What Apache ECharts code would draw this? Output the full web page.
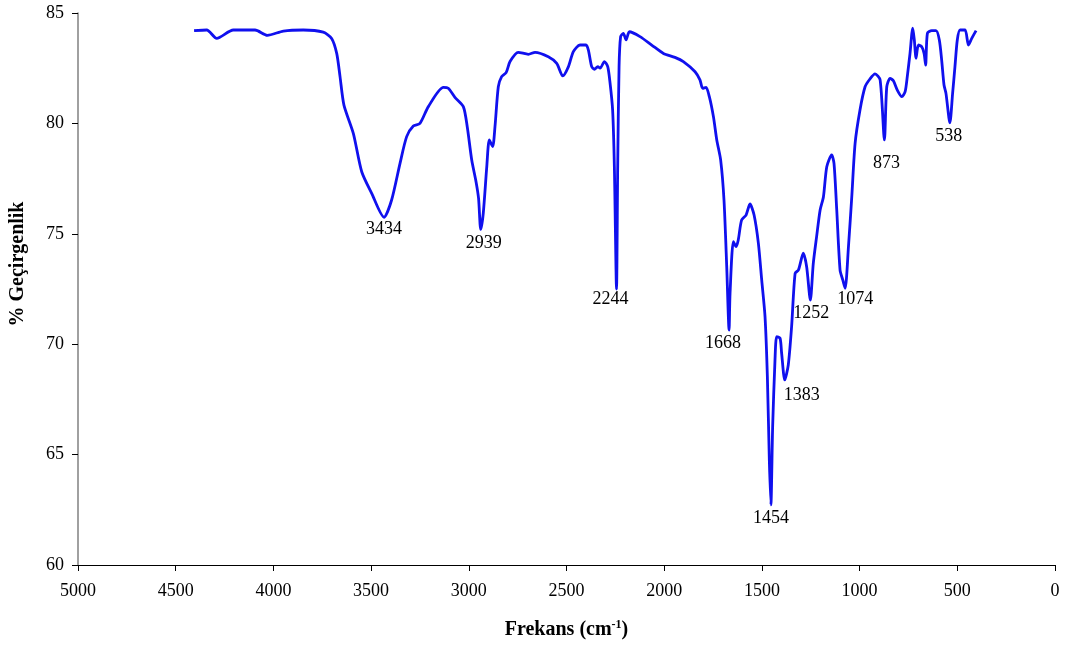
<!DOCTYPE html>
<html>
<head>
<meta charset="utf-8">
<script src="https://cdn.jsdelivr.net/npm/echarts@6/dist/echarts.min.js"></script>
<style>
  html, body { margin: 0; padding: 0; background: #fff; }
  #chart { width: 1070px; height: 649px; }
</style>
</head>
<body>
<div id="chart"></div>
<script>
// IR spektrumu: dalga sayısı (cm-1) ve % geçirgenlik
const wavenumbers = [
  4406, 4341, 4290, 4205, 4094, 4031, 3949, 3847, 3745, 3702,
  3676, 3659, 3639, 3591, 3548, 3497, 3434, 3395, 3352, 3318,
  3284, 3250, 3207, 3130, 3105, 3071, 3028, 3008, 2985, 2963,
  2950, 2939, 2926, 2908, 2895, 2878, 2866, 2849, 2832, 2809,
  2789, 2747, 2695, 2661, 2593, 2550, 2519, 2490, 2465, 2431,
  2400, 2388, 2371, 2357, 2340, 2328, 2306, 2289, 2277, 2264,
  2255, 2244, 2238, 2231, 2223, 2209, 2195, 2178, 2124, 2064,
  2004, 1945, 1902, 1842, 1817, 1803, 1786, 1769, 1748, 1731,
  1711, 1694, 1680, 1668, 1663, 1646, 1632, 1621, 1604, 1581,
  1561, 1540, 1518, 1501, 1484, 1472, 1462, 1454, 1445, 1433,
  1424, 1407, 1399, 1383, 1365, 1348, 1330, 1313, 1288, 1271,
  1252, 1237, 1220, 1202, 1185, 1168, 1143, 1131, 1117, 1100,
  1086, 1074, 1057, 1040, 1023, 998, 972, 948, 921, 895,
  873, 861, 844, 827, 807, 784, 767, 756, 742, 728,
  720, 711, 699, 682, 670, 662, 653, 631, 609, 592,
  580, 568, 558, 538, 524, 512, 500, 486, 460, 443,
  426, 404
];
const transmittance = [
  84.2, 84.23, 83.85, 84.23, 84.23, 83.99, 84.18, 84.23, 84.13, 83.85,
  83.17, 82.12, 80.83, 79.55, 77.81, 76.83, 75.75, 76.53, 78.19, 79.4,
  79.88, 80.0, 80.76, 81.63, 81.59, 81.18, 80.76, 79.85, 78.34, 77.36,
  76.6, 75.2, 75.93, 78.04, 79.25, 78.95, 79.85, 81.66, 82.12, 82.3,
  82.8, 83.22, 83.13, 83.22, 83.02, 82.72, 82.15, 82.57, 83.25, 83.55,
  83.55, 83.32, 82.57, 82.45, 82.57, 82.5, 82.8, 82.57, 81.82, 80.61,
  78.04, 72.5, 78.04, 82.57, 83.93, 84.08, 83.78, 84.15, 83.93, 83.55,
  83.17, 82.99, 82.8, 82.34, 81.97, 81.59, 81.63, 81.21, 80.3, 79.25,
  78.34, 76.53, 73.51, 70.64, 72.3, 74.64, 74.42, 74.72, 75.62, 75.85,
  76.35, 75.85, 74.57, 72.91, 71.25, 68.53, 64.76, 62.72, 66.26, 69.28,
  70.34, 70.27, 69.59, 68.38, 69.06, 70.79, 73.21, 73.36, 74.12, 73.51,
  72.0, 73.66, 74.87, 76.08, 76.68, 78.04, 78.57, 78.19, 76.08, 73.36,
  72.91, 72.53, 74.42, 76.68, 79.1, 80.61, 81.66, 82.0, 82.24, 81.97,
  79.25, 81.66, 82.04, 81.93, 81.51, 81.21, 81.44, 82.12, 83.17, 84.31,
  83.78, 82.95, 83.55, 83.47, 83.17, 82.64, 84.08, 84.2, 84.2, 83.78,
  82.87, 81.74, 81.36, 80.03, 81.36, 82.57, 83.78, 84.23, 84.23, 83.55,
  83.85, 84.2
];

// işaretli pikler
const peakWaves = [3434, 2939, 2244, 1668, 1454, 1383, 1252, 1074, 873, 538];
const peakValues = [75.75, 75.2, 72.5, 70.64, 62.72, 68.38, 72.0, 72.53, 79.25, 80.03];
// etiket kaydırmaları (piksel)
const peakLabelOffsets = [[0, 12], [3, 14], [-6, 10], [-6, 13], [0, 13], [17, 15], [1, 13], [10, 11], [2, 23], [-1, 14]];

const xTicks = { min: 0, max: 5000, step: 500 };
const yTicks = { min: 60, max: 85, step: 5 };

const font = "'Liberation Serif', 'Times New Roman', serif";

const myChart = echarts.init(document.getElementById("chart"));

const spectrum = wavenumbers.map((w, i) => [w, transmittance[i]]);
const peaks = peakWaves.map((w, i) => ({
  value: [w, peakValues[i]],
  label: { offset: peakLabelOffsets[i] },
}));

const options = {
  animation: false,
  backgroundColor: "#fff",
  grid: { left: 78, right: 15, top: 13, bottom: 84 },
  xAxis: {
    type: "value",
    inverse: true,
    min: xTicks.min,
    max: xTicks.max,
    interval: xTicks.step,
    name: "Frekans (cm{sup|-1})",
    nameLocation: "middle",
    nameGap: 54,
    nameTextStyle: {
      fontFamily: font,
      fontSize: 20,
      fontWeight: "bold",
      color: "#000",
      rich: {
        sup: { fontFamily: font, fontSize: 12, fontWeight: "bold", color: "#000", verticalAlign: "top", padding: [0, 0, 10, 0] },
      },
    },
    axisLine: { onZero: false, lineStyle: { color: "#000", width: 1 } },
    axisTick: { length: 6, lineStyle: { color: "#000" } },
    axisLabel: { fontFamily: font, fontSize: 18, color: "#000", margin: 17, formatter: (v) => String(v) },
    splitLine: { show: false },
  },
  yAxis: {
    type: "value",
    position: "left",
    min: yTicks.min,
    max: yTicks.max,
    interval: yTicks.step,
    name: "% Geçirgenlik",
    nameLocation: "middle",
    nameGap: 50,
    nameTextStyle: {
      fontFamily: font,
      fontSize: 20,
      fontWeight: "bold",
      color: "#000",
      padding: [0, 0, 0, 50],
    },
    axisLine: { show: true, onZero: false, lineStyle: { color: "#808080", width: 1.5 } },
    axisTick: { show: true, length: 6, lineStyle: { color: "#000" } },
    axisLabel: { fontFamily: font, fontSize: 18, color: "#000", margin: 14 },
    splitLine: { show: false },
  },
  series: [
    {
      type: "line",
      data: spectrum,
      showSymbol: false,
      smooth: 0.25,
      lineStyle: { color: "#1010ee", width: 2.8 },
      silent: true,
    },
    {
      type: "scatter",
      data: peaks,
      symbolSize: 0,
      silent: true,
      itemStyle: { opacity: 1 },
      label: {
        show: true,
        position: "inside",
        formatter: (p) => String(p.value[0]),
        fontFamily: font,
        fontSize: 18,
        color: "#000",
        opacity: 1,
      },
    },
  ],
};

myChart.setOption(options);
</script>
</body>
</html>
